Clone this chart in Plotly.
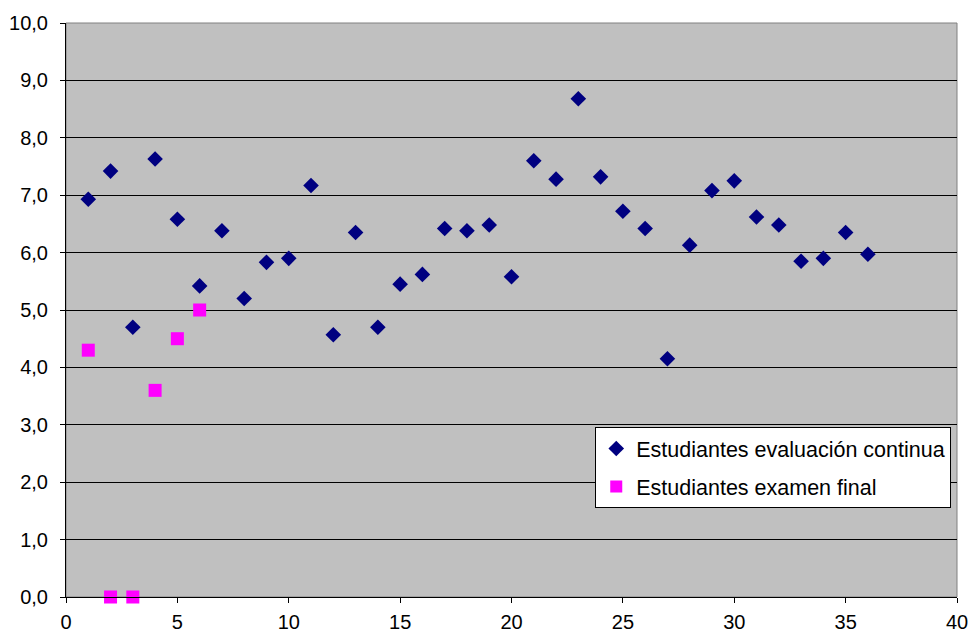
import plotly.graph_objects as go

x_cont = list(range(1, 37))
y_cont = [6.93, 7.42, 4.70, 7.63, 6.58, 5.42, 6.38, 5.20, 5.83, 5.90,
          7.17, 4.57, 6.35, 4.70, 5.45, 5.62, 6.42, 6.38, 6.48, 5.58,
          7.60, 7.28, 8.68, 7.32, 6.72, 6.42, 4.15, 6.13, 7.08, 7.25,
          6.62, 6.48, 5.85, 5.90, 6.35, 5.97]

x_final = [1, 2, 3, 4, 5, 6]
y_final = [4.30, 0.0, 0.0, 3.60, 4.50, 5.00]

tick_font = dict(family="Liberation Sans, Arial, sans-serif", size=20, color="black")
leg_font = dict(family="Liberation Sans, Arial, sans-serif", size=21.5, color="black")

fig = go.Figure()
fig.add_trace(go.Scatter(x=x_cont, y=y_cont, mode="markers",
                         name="Estudiantes evaluación continua", legendgroup="a",
                         marker=dict(symbol="diamond", size=12, color="#000080",
                                     line=dict(width=0)),
                         cliponaxis=False))
fig.add_trace(go.Scatter(x=x_final, y=y_final, mode="markers",
                         name="Estudiantes examen final", legendgroup="b",
                         marker=dict(symbol="square", size=13, color="#FF00FF",
                                     line=dict(width=0)),
                         cliponaxis=False))

fig.add_shape(type="rect", xref="paper", yref="paper", x0=0, y0=0, x1=1, y1=1,
              line=dict(color="#808080", width=1), layer="below")

fig.update_layout(
    width=970, height=637,
    margin=dict(l=66, r=13, t=23, b=40),
    paper_bgcolor="white", plot_bgcolor="#C0C0C0",
    font=tick_font,
    separators=",.",
    showlegend=True,
    legend=dict(x=0.594, y=0.296, xanchor="left", yanchor="top",
                bgcolor="white", bordercolor="black", borderwidth=1,
                font=leg_font, itemsizing="constant", tracegroupgap=7,
                itemwidth=30),
    xaxis=dict(range=[0, 40], dtick=5, tick0=0, showgrid=False, zeroline=False,
               showline=True, linecolor="black", linewidth=1,
               ticks="outside", ticklen=5, tickcolor="black", tickfont=tick_font,
               ticklabelstandoff=2, automargin=False),
    yaxis=dict(range=[0, 10], dtick=1, tick0=0, tickformat=".1f",
               showgrid=True, gridcolor="black", gridwidth=1, zeroline=False,
               showline=True, linecolor="black", linewidth=1,
               ticks="outside", ticklen=5, tickcolor="black", tickfont=tick_font,
               ticklabelstandoff=8, automargin=False),
)
fig.write_html("out.html")
